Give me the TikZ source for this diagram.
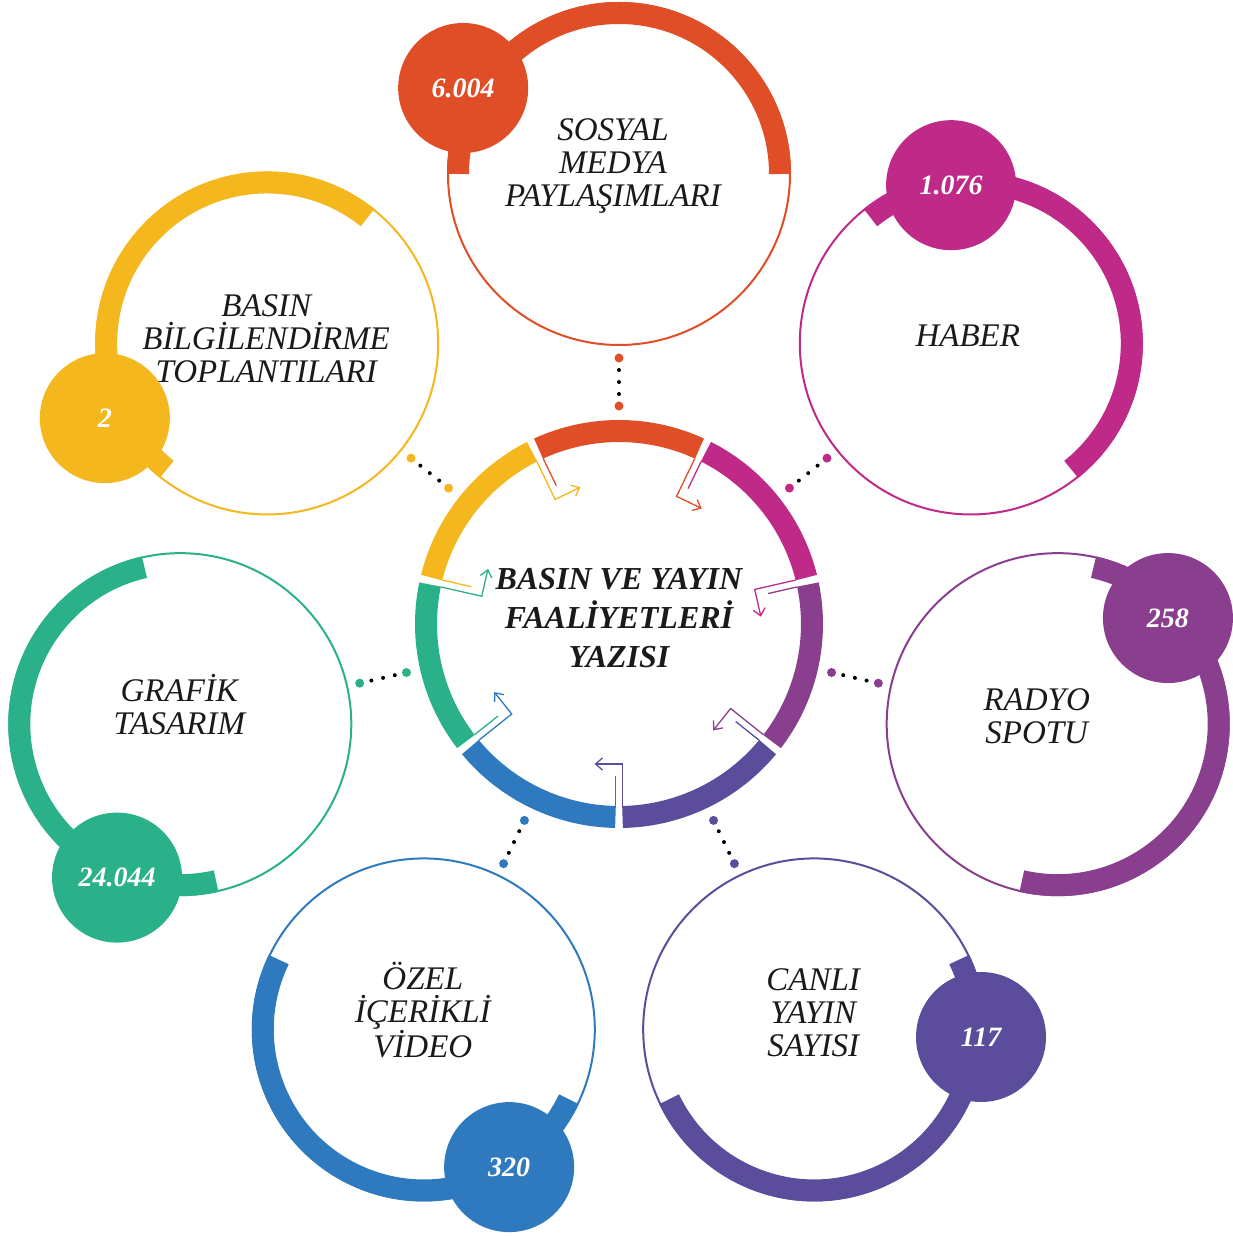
\documentclass[tikz,border=0pt]{standalone}
\usepackage{fontspec}
\setmainfont{Liberation Serif}
\usetikzlibrary{calc,arrows.meta}

\definecolor{cred}{HTML}{E04E27}
\definecolor{cmagenta}{HTML}{BF2A88}
\definecolor{cpurple}{HTML}{8A3E8E}
\definecolor{cviolet}{HTML}{5B4D9B}
\definecolor{cblue}{HTML}{2F79BE}
\definecolor{cgreen}{HTML}{2AB18A}
\definecolor{cyellow}{HTML}{F5B71E}
\definecolor{ctext}{HTML}{1A1A1A}

\tikzset{
  bubble/.style={circle, minimum size=342pt, inner sep=0pt, line width=2pt},
  thickarc/.style={line width=22pt},
  numcircle/.style={circle, minimum size=130pt, inner sep=0pt, text=white, font=\fontsize{28}{28}\selectfont\bfseries\itshape},
  circtext/.style={align=center, text=ctext, font=\fontsize{33}{33}\selectfont\itshape},
  seg/.style={line width=22pt},
  turnarrow/.style={line width=1.3pt, -{Straight Barb[length=7pt,width=12pt]}},
  edgeline/.style={line width=1.3pt},
  spokedot/.style={circle, minimum size=9pt, inner sep=0pt},
  spokeline/.style={line width=4pt, line cap=round, dash pattern=on 0pt off 12pt, shorten <=12pt, shorten >=11.5pt},
}

\begin{document}
\begin{tikzpicture}[x=1pt,y=1pt]
        \useasboundingbox (-619,-613) rectangle (613,624);

        % center ring
        \draw[seg, cred] (65.34:193pt) arc[start angle=65.34, end angle=114.66, radius=193pt];
        \draw[seg, cmagenta] (13.91:193pt) arc[start angle=13.91, end angle=63.23, radius=193pt];
        \draw[seg, cpurple] (-37.52:193pt) arc[start angle=-37.52, end angle=11.80, radius=193pt];
        \draw[seg, cviolet] (-88.95:193pt) arc[start angle=-88.95, end angle=-39.63, radius=193pt];
        \draw[seg, cblue] (-140.37:193pt) arc[start angle=-140.37, end angle=-91.05, radius=193pt];
        \draw[seg, cgreen] (-191.80:193pt) arc[start angle=-191.80, end angle=-142.48, radius=193pt];
        \draw[seg, cyellow] (116.77:193pt) arc[start angle=116.77, end angle=166.09, radius=193pt];

        \draw[turnarrow, cyellow] (115.71:182pt) ++(205.71:3.5pt) -- ++(295.71:42pt) -- ++(25.71:28pt);
        \draw[edgeline, cred] (115.71:182pt) ++(25.71:3.5pt) -- ++(295.71:30pt);
        \draw[turnarrow, cred] (64.29:182pt) ++(154.29:3.5pt) -- ++(244.29:42pt) -- ++(-25.71:28pt);
        \draw[edgeline, cmagenta] (64.29:182pt) ++(-25.71:3.5pt) -- ++(244.29:30pt);
        \draw[turnarrow, cmagenta] (12.86:182pt) ++(102.86:3.5pt) -- ++(192.86:42pt) -- ++(-77.14:28pt);
        \draw[edgeline, cpurple] (12.86:182pt) ++(-77.14:3.5pt) -- ++(192.86:30pt);
        \draw[turnarrow, cpurple] (-38.57:182pt) ++(51.43:3.5pt) -- ++(141.43:42pt) -- ++(-128.57:28pt);
        \draw[edgeline, cviolet] (-38.57:182pt) ++(-128.57:3.5pt) -- ++(141.43:30pt);
        \draw[turnarrow, cviolet] (-90:182pt) ++(0:3.5pt) -- ++(90:42pt) -- ++(180:28pt);
        \draw[edgeline, cblue] (-90:182pt) ++(180:3.5pt) -- ++(90:30pt);
        \draw[turnarrow, cblue] (-141.43:182pt) ++(-51.43:3.5pt) -- ++(38.57:42pt) -- ++(128.57:28pt);
        \draw[edgeline, cgreen] (-141.43:182pt) ++(128.57:3.5pt) -- ++(38.57:30pt);
        \draw[turnarrow, cgreen] (167.14:182pt) ++(257.14:3.5pt) -- ++(347.14:42pt) -- ++(77.14:28pt);
        \draw[edgeline, cyellow] (167.14:182pt) ++(77.14:3.5pt) -- ++(347.14:30pt);

        \node[align=center, text=ctext, font=\fontsize{32}{39}\selectfont\bfseries\itshape] (maintext) at (0,6pt) {BASIN VE YAYIN\\FAALİYETLERİ\\YAZISI};

        % sosyal medya
        \node[bubble, draw=cred] (sosyal) at (90:450pt) {};
        \draw[thickarc, cred] ([shift={(0:161pt)}]sosyal.center) arc[start angle=0, end angle=180, radius=161pt];
        \node[numcircle, fill=cred] (sosyalnum) at ([shift={(151.1:178pt)}]sosyal.center) {6.004};
        \node[circtext] (sosyaltext) at ([shift={(-6pt,8pt)}]sosyal.center) {SOSYAL\\MEDYA\\PAYLAŞIMLARI};

        % haber
        \node[bubble, draw=cmagenta] (haber) at (38.57:450pt) {};
        \draw[thickarc, cmagenta] ([shift={(-51.43:161pt)}]haber.center) arc[start angle=-51.43, end angle=128.57, radius=161pt];
        \node[numcircle, fill=cmagenta] (habernum) at ([shift={(97.1:159.5pt)}]haber.center) {1.076};
        \node[circtext] (habertext) at ([shift={(-3pt,8pt)}]haber.center) {HABER};

        % radyo spotu
        \node[bubble, draw=cpurple] (radyo) at (-12.86:450pt) {};
        \draw[thickarc, cpurple] ([shift={(-102.86:161pt)}]radyo.center) arc[start angle=-102.86, end angle=77.14, radius=161pt];
        \node[numcircle, fill=cpurple] (radyonum) at ([shift={(43.9:153pt)}]radyo.center) {258};
        \node[circtext] (radyotext) at ([shift={(-21pt,8pt)}]radyo.center) {RADYO\\SPOTU};

        % canli yayin
        \node[bubble, draw=cviolet] (canli) at (-64.29:450pt) {};
        \draw[thickarc, cviolet] ([shift={(-154.29:161pt)}]canli.center) arc[start angle=-154.29, end angle=25.71, radius=161pt];
        \node[numcircle, fill=cviolet] (canlinum) at ([shift={(-2.6:167pt)}]canli.center) {117};
        \node[circtext] (canlitext) at ([shift={(-1pt,17pt)}]canli.center) {CANLI\\YAYIN\\SAYISI};

        % ozel icerikli video
        \node[bubble, draw=cblue] (ozel) at (-115.71:450pt) {};
        \draw[thickarc, cblue] ([shift={(-205.71:161pt)}]ozel.center) arc[start angle=-205.71, end angle=-25.71, radius=161pt];
        \node[numcircle, fill=cblue] (ozelnum) at ([shift={(-58.2:162pt)}]ozel.center) {320};
        \node[circtext] (ozeltext) at ([shift={(-1pt,19pt)}]ozel.center) {ÖZEL\\İÇERİKLİ\\VİDEO};

        % grafik tasarim
        \node[bubble, draw=cgreen] (grafik) at (-167.14:450pt) {};
        \draw[thickarc, cgreen] ([shift={(-257.14:161pt)}]grafik.center) arc[start angle=-257.14, end angle=-77.14, radius=161pt];
        \node[numcircle, fill=cgreen] (grafiknum) at ([shift={(247.6:166pt)}]grafik.center) {24.044};
        \node[circtext] (grafiktext) at ([shift={(-1pt,20pt)}]grafik.center) {GRAFİK\\TASARIM};

        % basin bilgilendirme
        \node[bubble, draw=cyellow] (basin) at (141.43:450pt) {};
        \draw[thickarc, cyellow] ([shift={(51.43:161pt)}]basin.center) arc[start angle=51.43, end angle=231.43, radius=161pt];
        \node[numcircle, fill=cyellow] (basinnum) at ([shift={(204.7:178.7pt)}]basin.center) {2};
        \node[circtext] (basintext) at ([shift={(-1pt,5pt)}]basin.center) {BASIN\\BİLGİLENDİRME\\TOPLANTILARI};

        % dotted spokes
        \node[spokedot, fill=cred] (sosyalin) at (90:218pt) {};
        \node[spokedot, fill=cred] (sosyalout) at (90:266pt) {};
        \draw[spokeline] (sosyalin.center) -- (sosyalout.center);
        \node[spokedot, fill=cmagenta] (haberin) at (38.57:218pt) {};
        \node[spokedot, fill=cmagenta] (haberout) at (38.57:266pt) {};
        \draw[spokeline] (haberin.center) -- (haberout.center);
        \node[spokedot, fill=cpurple] (radyoin) at (-12.86:218pt) {};
        \node[spokedot, fill=cpurple] (radyoout) at (-12.86:266pt) {};
        \draw[spokeline] (radyoin.center) -- (radyoout.center);
        \node[spokedot, fill=cviolet] (canliin) at (-64.29:218pt) {};
        \node[spokedot, fill=cviolet] (canliout) at (-64.29:266pt) {};
        \draw[spokeline] (canliin.center) -- (canliout.center);
        \node[spokedot, fill=cblue] (ozelin) at (-115.71:218pt) {};
        \node[spokedot, fill=cblue] (ozelout) at (-115.71:266pt) {};
        \draw[spokeline] (ozelin.center) -- (ozelout.center);
        \node[spokedot, fill=cgreen] (grafikin) at (-167.14:218pt) {};
        \node[spokedot, fill=cgreen] (grafikout) at (-167.14:266pt) {};
        \draw[spokeline] (grafikin.center) -- (grafikout.center);
        \node[spokedot, fill=cyellow] (basinin) at (141.43:218pt) {};
        \node[spokedot, fill=cyellow] (basinout) at (141.43:266pt) {};
        \draw[spokeline] (basinin.center) -- (basinout.center);
\end{tikzpicture}
\end{document}
